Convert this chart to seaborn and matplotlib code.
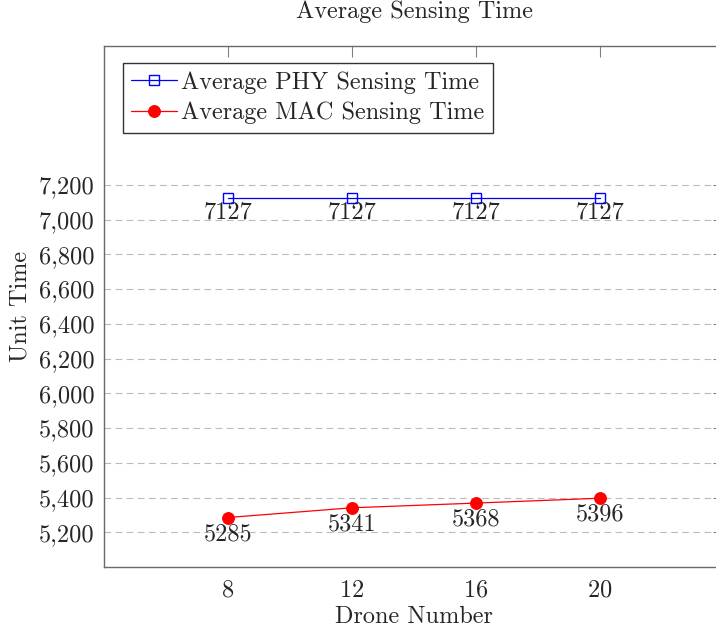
import numpy as np
import matplotlib
matplotlib.use("Agg")
import matplotlib.pyplot as plt
import matplotlib.ticker as mticker
import pandas as pd
import seaborn as sns

drones = [8, 12, 16, 20]
phy_time = [7127, 7127, 7127, 7127]
mac_time = [5285, 5341, 5368, 5396]
y_ticks = [5200, 5400, 5600, 5800, 6000, 6200, 6400, 6600, 6800, 7000, 7200]

sns.set_style("white")
plt.rcParams['font.family'] = 'serif'
plt.rcParams['font.serif'] = ['cmr10', 'DejaVu Serif']
plt.rcParams['axes.formatter.use_mathtext'] = True
plt.rcParams['axes.unicode_minus'] = False

FS = 17.5
df = pd.DataFrame({"drones": drones, "phy": phy_time, "mac": mac_time})

fig = plt.figure(figsize=(7.16, 6.31), dpi=100)
ax = fig.add_axes([104 / 716, 64 / 631, 620 / 716, 521 / 631])

sns.lineplot(data=df, x="drones", y="phy", ax=ax, color="blue", lw=0.9,
             marker="s", markersize=7.5, markerfacecolor="none",
             markeredgecolor="blue", markeredgewidth=1.0,
             label="Average PHY Sensing Time")
sns.lineplot(data=df, x="drones", y="mac", ax=ax, color="red", lw=0.9,
             marker="o", markersize=8.5, markerfacecolor="red",
             markeredgecolor="red", label="Average MAC Sensing Time")

for x, y in zip(drones, phy_time):
    ax.annotate(str(y), (x, y), xytext=(0, -3), textcoords="offset points",
                ha="center", va="top", fontsize=FS)
for x, y in zip(drones, mac_time):
    ax.annotate(str(y), (x, y), xytext=(0, -4), textcoords="offset points",
                ha="center", va="top", fontsize=FS)

ax.set_xlim(4, 24)
ax.set_ylim(5000, 8000)
ax.set_xticks(drones)
ax.set_yticks(y_ticks)
ax.yaxis.set_major_formatter(mticker.FuncFormatter(lambda v, p: f"{v:,.0f}"))
ax.tick_params(axis="both", direction="in", length=8, color="#808080",
               labelsize=FS, top=True, right=True, width=0.8)
ax.tick_params(axis="x", pad=9)
ax.tick_params(axis="y", pad=7)
ax.grid(axis="y", linestyle=(0, (6, 4)), color="#bbbbbb", lw=0.8)
for s in ax.spines.values():
    s.set_color("#6a6a6a")
    s.set_linewidth(1.0)

ax.set_xlabel("Drone Number", fontsize=FS, labelpad=3)
ax.set_ylabel("Unit Time", fontsize=FS, labelpad=5)
ax.set_title("Average Sensing Time", fontsize=FS, pad=20)

leg = ax.legend(loc="upper left", bbox_to_anchor=(0.03, 0.968), fontsize=FS,
                frameon=True, fancybox=False, borderaxespad=0,
                handlelength=1.9, handletextpad=0.15, borderpad=0.35,
                labelspacing=0.33)
leg.get_frame().set_edgecolor("black")
leg.get_frame().set_linewidth(1.0)

fig.savefig("out.png", dpi=100)
